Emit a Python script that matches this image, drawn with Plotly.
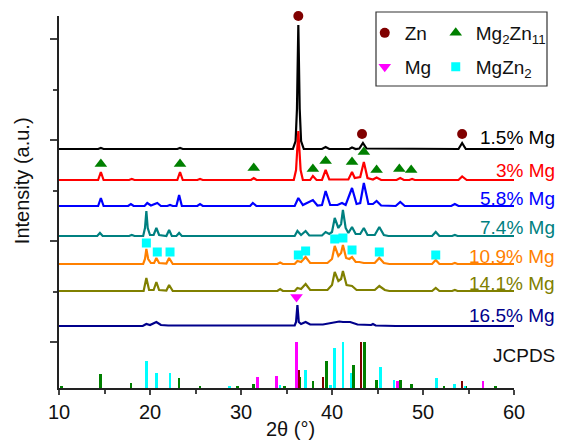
import plotly.graph_objects as go

# ---------------- data ----------------
# stacked XRD patterns: (2theta, intensity above own baseline)
p_1_5 = [(10, 0), (14.3, 0), (14.6, 1), (14.9, 0), (23.0, 0), (23.3, 1), (23.6, 0), (35.7, 0), (36.0, 8), (36.15, 40),
         (36.3, 124), (36.45, 40), (36.6, 8), (36.9, 0), (38.9, 0), (39.3, 2), (39.7, 0), (41.9, 0), (42.2, 1.5), (42.6, 0),
         (43.0, 0.5), (43.4, 6), (43.8, 0.5), (53.9, 0), (54.3, 6), (54.7, 0), (60, 0)]
p_3 = [(10, 0), (14.3, 0), (14.6, 8), (14.9, 0), (17.7, 0), (18.0, 1), (18.3, 0), (23.0, 0), (23.3, 8), (23.6, 0),
       (25.2, 0), (25.5, 1), (25.8, 0), (31.1, 0), (31.4, 2), (31.7, 0), (35.8, 0), (36.05, 10), (36.3, 49), (36.55, 10),
       (36.8, 0), (37.6, 0), (37.9, 4), (38.3, 0), (38.9, 0), (39.3, 10), (39.7, 0.5), (41.8, 0.5), (42.2, 8), (42.5, 2),
       (43.1, 3), (43.5, 18), (43.9, 2), (44.5, 0.5), (44.9, 2.5), (45.4, 0), (47.1, 0), (47.5, 2), (47.9, 0), (48.5, 0),
       (48.8, 1), (49.1, 0), (53.9, 0), (54.3, 3.5), (54.8, 0), (60, 0)]
p_5_8 = [(10, 0), (14.3, 0), (14.6, 8), (14.9, 0), (17.6, 0), (17.9, 2), (18.2, 0), (19.4, 0), (19.7, 3), (20.1, 0.5),
         (20.8, 3), (21.2, 0), (21.9, 0), (22.2, 1), (22.5, 0), (22.9, 0), (23.2, 11), (23.5, 0), (25.2, 0), (25.5, 2),
         (25.8, 0), (31.0, 0), (31.3, 3), (31.7, 0), (35.9, 0), (36.3, 8), (36.8, 1), (37.9, 6), (38.4, 0.5), (38.9, 1),
         (39.3, 15), (39.8, 1), (40.6, 1), (41.1, 3), (41.5, 1), (42.2, 18), (42.7, 2), (43.1, 3), (43.5, 23), (44.0, 2),
         (44.5, 2), (44.9, 5), (45.4, 0.5), (47.0, 0), (47.5, 4), (48.0, 0), (53.1, 0), (53.5, 2), (53.9, 0), (60, 0)]
p_7_4 = [(10, 0), (14.2, 0), (14.5, 3), (14.8, 0), (17.7, 0), (18.0, 1), (18.3, 0), (19.25, 0), (19.45, 8), (19.6, 25),
         (19.75, 8), (20.0, 1), (20.4, 1), (20.7, 8), (21.0, 1), (21.8, 0), (22.1, 6), (22.4, 0), (22.9, 0), (23.2, 3),
         (23.5, 0), (35.9, 0), (36.2, 5), (36.6, 1), (37.1, 5), (37.5, 0.5), (38.9, 0.5), (39.3, 4), (39.7, 2), (40.0, 4),
         (40.3, 18), (40.7, 8), (41.0, 12), (41.2, 26), (41.5, 8), (41.8, 3), (42.2, 9), (42.6, 2), (43.1, 2), (43.5, 8),
         (43.9, 1), (44.7, 1), (45.2, 9), (45.7, 1), (46.2, 0), (51.0, 0), (51.4, 4), (51.8, 0), (53.2, 0), (53.5, 1),
         (53.8, 0), (60, 0)]
p_10_9 = [(10, 0), (19.25, 0), (19.45, 5), (19.6, 15), (19.8, 5), (20.1, 1), (20.45, 1), (20.7, 6), (21.0, 1), (21.8, 0.5),
          (22.1, 6), (22.5, 0), (34.0, 0), (34.3, 1.5), (34.6, 0), (35.9, 0), (36.2, 3), (36.6, 2), (37.1, 7), (37.6, 1),
          (39.5, 1), (40.0, 5), (40.3, 18), (40.7, 8), (41.0, 11), (41.2, 19), (41.55, 6), (41.9, 5), (42.2, 7), (42.6, 2),
          (43.0, 2), (43.5, 1), (44.7, 1), (45.2, 6), (45.7, 1), (46.3, 0), (51.0, 0), (51.4, 4), (51.8, 0), (53.2, 0),
          (53.5, 1), (53.8, 0), (60, 0)]
p_14_1 = [(10, 0), (19.3, 0), (19.6, 13), (19.9, 1), (20.4, 1), (20.7, 9), (21.0, 1), (21.8, 0.5), (22.1, 6), (22.5, 0),
          (34.0, 0), (34.3, 2), (34.6, 0), (35.9, 0), (36.2, 3), (36.6, 2), (37.1, 7), (37.6, 1), (39.5, 1), (40.0, 6),
          (40.3, 19), (40.7, 10), (41.0, 12), (41.2, 20), (41.6, 6), (42.2, 5), (42.7, 1), (44.7, 1), (45.2, 5), (45.8, 1),
          (46.3, 0), (51.0, 0), (51.4, 3), (51.8, 0), (53.2, 0), (53.5, 1), (53.8, 0), (60, 0)]
p_16_5 = [(10, 0), (19.2, 0), (19.6, 2), (20.0, 1), (20.7, 4), (21.2, 1), (22.0, 0.5), (35.9, 0.5), (36.05, 4), (36.2, 21),
          (36.35, 4), (36.6, 2), (37.1, 4), (37.6, 1.5), (39.0, 1.5), (40.3, 4), (40.8, 4.5), (41.2, 4), (42.0, 4),
          (42.8, 1.5), (44.3, 1), (44.5, 2), (44.8, 0.5), (47.0, 0), (60, 0)]

patterns = [p_1_5, p_3, p_5_8, p_7_4, p_10_9, p_14_1, p_16_5]
sample_labels = ["1.5% Mg", "3% Mg", "5.8% Mg", "7.4% Mg", "10.9% Mg", "14.1% Mg", "16.5% Mg"]
offsets = [193, 162, 136, 106, 78, 51, 16]
label_y = [205, 172, 144, 115, 86, 59, 27]
colors = ["#000000", "#FF0000", "#0000FF", "#008080", "#FF8000", "#808000", "#00008B"]

# JCPDS reference sticks (2theta, relative intensity %)
zn_pos = [36.3, 39.0, 43.2, 54.3]
zn_int = [39, 23, 100, 16]
mg_pos = [31.8, 33.9, 36.1, 47.2, 56.6]
mg_int = [24, 27, 100, 16, 16]
mgzn2_pos = [19.6, 20.7, 22.2, 28.7, 34.3, 37.1, 39.8, 40.3, 41.2, 42.1, 45.3, 46.8, 51.5, 53.5, 54.6]
mgzn2_int = [59, 32, 32, 3, 7, 40, 7, 86, 100, 32, 45, 17, 22, 9, 5]
mg2zn11_pos = [10.3, 14.6, 17.9, 23.2, 25.5, 29.6, 31.4, 34.8, 36.4, 37.9, 39.4, 42.4, 43.6, 44.9, 47.5, 48.7, 52.3,
               54.7, 58.0]
mg2zn11_int = [3, 30, 10, 22, 5, 3, 9, 3, 25, 16, 58, 50, 100, 17, 17, 9, 3, 5, 3]
jcpds_base = -46
jcpds_scale = 0.46

# phase markers on patterns
zn_mx = [36.3, 43.3, 54.3]
zn_my = [326, 208, 208]
mg2zn11_mx = [14.6, 23.3, 31.4, 37.9, 39.3, 42.2, 43.5, 44.9, 47.4, 48.7]
mg2zn11_my = [178, 178, 174, 173, 181, 180, 190, 172, 173, 172]
mg_mx = [36.1]
mg_my = [45]
mgzn2_mx = [19.6, 20.8, 22.2, 36.3, 37.1, 40.3, 41.2, 42.2, 45.2, 51.4]
mgzn2_my = [99, 90, 90, 87, 91, 103, 104, 92, 90, 87]

FONT = "Liberation Sans, Arial, sans-serif"
Y_TOP = 326          # axis top (data units = px)
T_MARGIN = 16
PLOT_H = 440 - T_MARGIN - 52


def py(px):
    """paper y for a pixel row"""
    return (388 - px) / PLOT_H


fig = go.Figure()

# JCPDS sticks
for pos, inten, col in [(mg2zn11_pos, mg2zn11_int, "#008000"), (zn_pos, zn_int, "#800000"),
                        (mgzn2_pos, mgzn2_int, "#00FFFF"), (mg_pos, mg_int, "#FF00FF")]:
    fig.add_trace(go.Bar(x=pos, y=[v * jcpds_scale for v in inten], base=jcpds_base, width=0.3,
                         marker=dict(color=col, line=dict(width=0)), showlegend=False, hoverinfo="skip"))

# patterns
for pts, off, col in zip(patterns, offsets, colors):
    fig.add_trace(go.Scatter(x=[p[0] for p in pts], y=[p[1] + off for p in pts], mode="lines",
                             line=dict(color=col, width=2.2), showlegend=False, hoverinfo="skip"))

# markers
fig.add_trace(go.Scatter(x=zn_mx, y=zn_my, mode="markers", name="Zn", legend="legend",
                         marker=dict(symbol="circle", size=10, color="#800000"), cliponaxis=False))
fig.add_trace(go.Scatter(x=mg2zn11_mx, y=mg2zn11_my, mode="markers", name="Mg<sub>2</sub>Zn<sub>11</sub>",
                         legend="legend2", marker=dict(symbol="triangle-up", size=11, color="#008000"),
                         cliponaxis=False))
fig.add_trace(go.Scatter(x=mg_mx, y=mg_my, mode="markers", name="Mg", legend="legend3",
                         marker=dict(symbol="triangle-down", size=11, color="#FF00FF"), cliponaxis=False))
fig.add_trace(go.Scatter(x=mgzn2_mx, y=mgzn2_my, mode="markers", name="MgZn<sub>2</sub>", legend="legend4",
                         marker=dict(symbol="square", size=9, color="#00FFFF"), cliponaxis=False))

annotations = []
for lab, ly, col in zip(sample_labels, label_y, colors):
    annotations.append(dict(x=1.0945, xref="paper", y=ly, yref="y", text=lab, showarrow=False,
                            xanchor="right", yanchor="middle", font=dict(size=19, color=col, family=FONT)))
annotations.append(dict(x=1.0945, xref="paper", y=-13, yref="y", text="JCPDS", showarrow=False,
                        xanchor="right", yanchor="middle", font=dict(size=19, color="#111111", family=FONT)))
annotations.append(dict(x=-0.081, xref="paper", y=py(181), yref="paper", text="Intensity (a.u.)", textangle=-90,
                        showarrow=False, xanchor="center", yanchor="middle",
                        font=dict(size=20, color="#111111", family=FONT)))
annotations.append(dict(x=0.508, xref="paper", y=py(429), yref="paper", text="2θ (°)", showarrow=False,
                        xanchor="center", yanchor="middle", font=dict(size=20, color="#111111", family=FONT)))

leg_common = dict(bgcolor="rgba(0,0,0,0)", borderwidth=0, xanchor="left", yanchor="middle",
                  font=dict(size=19, family=FONT, color="#111111"), itemwidth=30)

fig.update_layout(
    width=566, height=440,
    margin=dict(l=59, r=52, t=T_MARGIN, b=52),
    paper_bgcolor="white", plot_bgcolor="white",
    barmode="overlay", bargap=0,
    font=dict(family=FONT, size=19, color="#111111"),
    annotations=annotations,
    legend=dict(x=0.672, y=py(33), **leg_common),
    legend2=dict(x=0.828, y=py(33), **leg_common),
    legend3=dict(x=0.672, y=py(67), **leg_common),
    legend4=dict(x=0.828, y=py(67), **leg_common),
    shapes=[dict(type="rect", xref="paper", yref="paper", x0=(376 - 59) / 455, x1=(547 - 59) / 455,
                 y0=py(86), y1=py(12), line=dict(color="#333333", width=1.2))],
)
fig.update_xaxes(range=[10, 60], tickmode="linear", tick0=10, dtick=10, ticks="outside", ticklen=5, tickwidth=1.5,
                 showline=True, linecolor="#222222", linewidth=1.5, showgrid=False, zeroline=False,
                 tickfont=dict(size=20, family=FONT, color="#111111"),
                 minor=dict(dtick=5, ticks="outside", ticklen=4, tickwidth=1.5, showgrid=False))
fig.update_yaxes(range=[-46, Y_TOP], tickmode="linear", tick0=0, dtick=101, ticks="outside", ticklen=7, tickwidth=1.5,
                 showticklabels=False, showline=True, linecolor="#222222", linewidth=1.5, showgrid=False,
                 zeroline=False, minor=dict(dtick=50.5, ticks="outside", ticklen=4, tickwidth=1.5, showgrid=False))

fig.write_html("out.html")
